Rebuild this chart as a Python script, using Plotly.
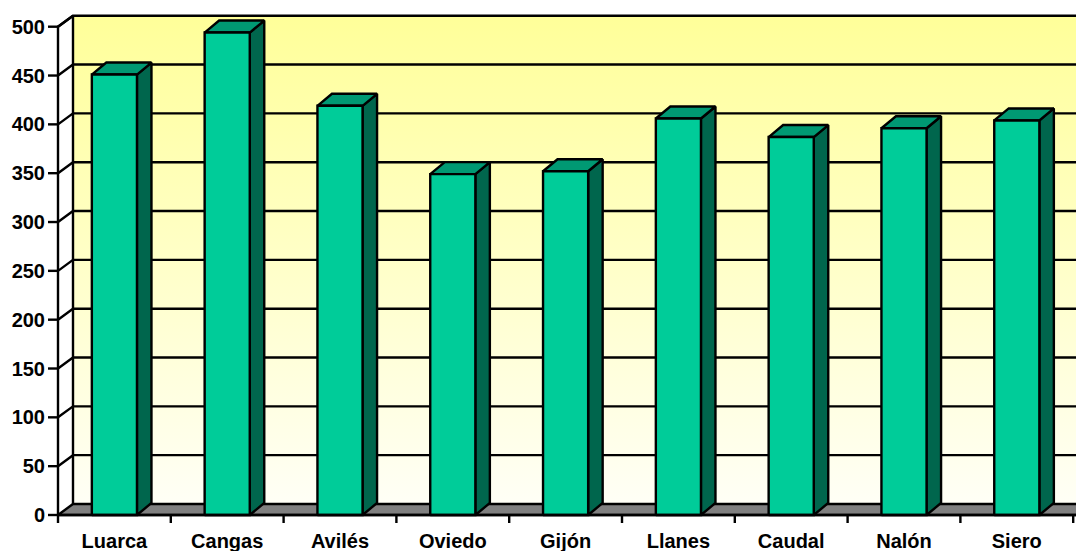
import plotly.graph_objects as go

# ---- data ----
categories = ["Luarca", "Cangas", "Avilés", "Oviedo", "Gijón", "Llanes", "Caudal", "Nalón", "Siero"]
values = [451, 494, 419, 349, 352, 406, 387, 396, 404]
y_ticks = [0, 50, 100, 150, 200, 250, 300, 350, 400, 450, 500]

# ---- geometry / style constants ----
W, H = 1076, 551
CAT_PX = 112.8          # pixels per category
KY = 0.9766             # pixels per value unit
M_L, M_R, M_T, M_B = 46, 0, 14, 26
FRONT_LEFT_PX = 58      # pixel of the front y axis
ZERO_PX_FROM_BOTTOM = 10  # pixels between value 0 and plot bottom

x0 = -0.5 - (FRONT_LEFT_PX - M_L) / CAT_PX
x1 = x0 + (W - M_L - M_R) / CAT_PX
y0 = -ZERO_PX_FROM_BOTTOM / KY
y1 = y0 + (H - M_T - M_B) / KY

DXW = 15 / CAT_PX       # wall depth offset (x, categories)
DYW = 11 / KY           # wall depth offset (y, units)
DXB = 14.5 / CAT_PX     # bar depth
DYB = 12 / KY
HALF = 0.2              # bar half width
FAR = x1 + 1
YMAX = y_ticks[-1]

FRONT = "#00CC99"
SIDE = "#00664D"
TOP = "#009973"
LW = 2.4

fig = go.Figure()

# back wall with vertical gradient
fig.add_trace(go.Scatter(
    x=[-0.5 + DXW, FAR, FAR, -0.5 + DXW, -0.5 + DXW],
    y=[DYW, DYW, YMAX + DYW, YMAX + DYW, DYW],
    mode="lines", line=dict(width=0), fill="toself",
    fillgradient=dict(type="vertical",
                      colorscale=[[0, "#FFFFF6"], [1, "#FFFF99"]],
                      start=DYW, stop=YMAX + DYW),
    hoverinfo="skip", showlegend=False))

# gridlines: back wall horizontals + side wall diagonals + back wall left edge
gx, gy = [], []
for v in y_ticks:
    if v > 0:
        gx += [-0.5, -0.5 + DXW, FAR, None]
        gy += [v, v + DYW, v + DYW, None]
gx += [-0.5 + DXW, -0.5 + DXW, None]
gy += [DYW, YMAX + DYW, None]
fig.add_trace(go.Scatter(x=gx, y=gy, mode="lines",
                         line=dict(color="black", width=LW),
                         hoverinfo="skip", showlegend=False))

# floor
fig.add_trace(go.Scatter(
    x=[-0.5, FAR, FAR, -0.5 + DXW, -0.5],
    y=[0, 0, DYW, DYW, 0],
    mode="lines", fill="toself", fillcolor="#808080",
    line=dict(color="black", width=LW),
    hoverinfo="skip", showlegend=False))

# bars
for i, v in enumerate(values):
    l, r = i - HALF, i + HALF
    # side
    fig.add_trace(go.Scatter(
        x=[r, r + DXB, r + DXB, r, r], y=[0, DYB, v + DYB, v, 0],
        mode="lines", fill="toself", fillcolor=SIDE,
        line=dict(color="black", width=LW), hoverinfo="skip", showlegend=False))
    # top
    fig.add_trace(go.Scatter(
        x=[l, l + DXB, r + DXB, r, l], y=[v, v + DYB, v + DYB, v, v],
        mode="lines", fill="toself", fillcolor=TOP,
        line=dict(color="black", width=LW), hoverinfo="skip", showlegend=False))
    # front
    fig.add_trace(go.Scatter(
        x=[l, r, r, l, l], y=[0, 0, v, v, 0],
        mode="lines", fill="toself", fillcolor=FRONT,
        line=dict(color="black", width=LW),
        hovertemplate=f"{categories[i]}: {v}<extra></extra>", showlegend=False))

# front axes, y ticks and x boundary ticks
ax, ay = [], []
ax += [-0.5, -0.5, -0.5 + DXW, None]
ay += [0, YMAX, YMAX + DYW, None]
ax += [-0.5, FAR, None]
ay += [0, 0, None]
tick_len_x = 10 / CAT_PX
for v in y_ticks:
    ax += [-0.5 - tick_len_x, -0.5, None]
    ay += [v, v, None]
for k in range(len(categories) + 1):
    ax += [k - 0.5, k - 0.5, None]
    ay += [0, -8 / KY, None]
fig.add_trace(go.Scatter(x=ax, y=ay, mode="lines",
                         line=dict(color="black", width=LW),
                         hoverinfo="skip", showlegend=False))

font = dict(family="Arial, Liberation Sans, sans-serif", size=20, color="black", weight="bold")

fig.update_layout(
    width=W, height=H,
    margin=dict(l=M_L, r=M_R, t=M_T, b=M_B, pad=0),
    paper_bgcolor="white", plot_bgcolor="white",
    showlegend=False,
    xaxis=dict(range=[x0, x1], tickvals=list(range(len(categories))), ticktext=categories,
               ticks="", showgrid=False, zeroline=False, showline=False,
               tickfont=font, automargin=False, fixedrange=True, ticklabelstandoff=2),
    yaxis=dict(range=[y0, y1], tickvals=y_ticks, ticks="", showgrid=False,
               zeroline=False, showline=False, tickfont=font, automargin=False,
               fixedrange=True),
)

fig.write_html(
    "out.html",
    config={"displayModeBar": False},
    post_script="document.body.style.margin='0';document.body.style.overflow='hidden';",
)
